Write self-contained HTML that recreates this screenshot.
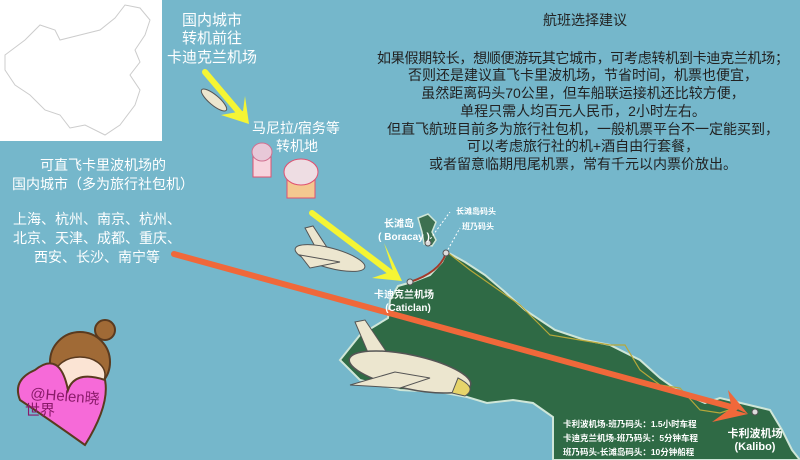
<!DOCTYPE html>
<html><head><meta charset="utf-8"><style>
html,body{margin:0;padding:0;background:#75b7cb;}
svg{display:block;}
text{font-family:"Liberation Sans","Noto Sans CJK SC",sans-serif;}
</style></head><body>
<svg width="800" height="460" viewBox="0 0 800 460" xmlns="http://www.w3.org/2000/svg">
<rect width="800" height="460" fill="#75b7cb"/>
<rect x="0" y="0" width="162" height="141" fill="#fff"/>
<path d="M5,55 L25,40 L40,25 L55,30 L60,40 L80,35 L100,30 L115,18 L125,5 L140,8 L150,20 L145,35 L135,50 L140,62 L130,75 L140,90 L135,105 L120,125 L105,135 L85,125 L70,128 L60,115 L45,110 L30,95 L15,85 L5,70 Z" fill="none" stroke="#ccc" stroke-width="1"/>
<path d="M398,286 L412,282 L430,275 L442,262 L447,252 L465,262 L485,275 L505,292 L525,310 L555,330 L585,340 L610,345 L640,360 L660,378 L680,392 L705,403 L720,398 L745,404 L770,410 L782,430 L792,450 L800,460 L553,460 L553,417 L533,403 L513,400 L487,403 L467,397 L440,392 L400,390 L360,380 L340,360 L360,335 L388,318 L390,300 Z" fill="#2f6a45" stroke="#cfe6d8" stroke-width="2"/>
<path d="M418,218 L428,214 L436,222 L432,232 L436,240 L432,246 L424,244 L422,232 Z" fill="#3d7050" stroke="#cfe6d8" stroke-width="1.5"/>
<path d="M447,252 L470,270 L520,305 L550,335 L580,340 L610,345 L625,345 L640,370 L660,385 L680,388 L700,410 L720,413 L735,408" fill="none" stroke="#b8a83a" stroke-width="1.2"/>
<path d="M410,282 Q440,272 446,253" fill="none" stroke="#a23a2a" stroke-width="2"/>
<line x1="428" y1="242" x2="450" y2="212" stroke="#fff" stroke-width="1" stroke-dasharray="2,2"/>
<line x1="446" y1="253" x2="460" y2="228" stroke="#fff" stroke-width="1" stroke-dasharray="2,2"/>
<circle cx="410" cy="282" r="3" fill="#ddd" stroke="#555"/>
<circle cx="446" cy="253" r="3" fill="#ddd" stroke="#555"/>
<circle cx="428" cy="243" r="3" fill="#ddd" stroke="#555"/>
<circle cx="755" cy="412" r="3" fill="#ddd" stroke="#555"/>
<g>
<path d="M355,322 L365,320 L392,360 L372,362 Z" fill="#ece6cf" stroke="#555"/>
<ellipse cx="410" cy="372" rx="62" ry="17" fill="#ece6cf" stroke="#555" stroke-width="1.5" transform="rotate(12 410 372)"/>
<path d="M395,372 L350,385 L400,388 L430,378 Z" fill="#ece6cf" stroke="#555"/>
<path d="M458,378 Q478,388 465,396 L452,393 Z" fill="#e6d46a" stroke="#555"/>
</g>
<g>
<path d="M305,228 L313,226 L330,252 L318,252 Z" fill="#ece6cf" stroke="#555"/>
<ellipse cx="330" cy="258" rx="36" ry="10" fill="#ece6cf" stroke="#555" transform="rotate(15 330 258)"/>
<path d="M300,255 L340,262 L310,268 Z" fill="#ece6cf" stroke="#555"/>
</g>
<ellipse cx="214" cy="100" rx="16" ry="5" fill="#ece6cf" stroke="#555" transform="rotate(40 214 100)"/>
<rect x="253" y="155" width="18" height="22" fill="#f7d3dd" stroke="#e05070"/>
<ellipse cx="262" cy="152" rx="10" ry="9" fill="#e8c8d8" stroke="#d07090"/>
<rect x="287" y="178" width="28" height="20" fill="#f4c890" stroke="#e05070"/>
<ellipse cx="301" cy="172" rx="17" ry="13" fill="#eedde3" stroke="#e05070"/>
<g fill="#f5f534">
<line x1="205" y1="72" x2="244" y2="118" stroke="#f5f534" stroke-width="6" stroke-linecap="round"/>
<polygon points="249,124 221,115 243,111 245,96"/>
<line x1="312" y1="213" x2="394" y2="275" stroke="#f5f534" stroke-width="6" stroke-linecap="round"/>
<polygon points="402,281 372,278 393,271 384,243"/>
</g>
<line x1="174" y1="254" x2="735" y2="408" stroke="#f0683a" stroke-width="6" stroke-linecap="round"/>
<polygon points="748,414 718,400 731,405 728,390" fill="#f0683a"/>
<polygon points="748,414 712,422 730,409" fill="#f0683a"/>
<circle cx="80" cy="362" r="30" fill="#a06a36" stroke="#5a3a1f" stroke-width="2"/>
<circle cx="105" cy="330" r="10" fill="#a06a36" stroke="#5a3a1f" stroke-width="2"/>
<ellipse cx="80" cy="375" rx="25" ry="18" fill="#fbe4d4" stroke="#5a3a1f" stroke-width="1.5"/>
<path d="M35,370 Q60,350 68,390 Q75,370 105,380 Q110,405 85,445 Q50,420 20,400 Q12,380 35,370 Z" fill="#f66ad8" stroke="#5a3a1f" stroke-width="2"/>
<text x="30" y="398" font-size="15" fill="#8a1a6a" font-family="Liberation Serif,Noto Serif CJK SC,serif" transform="rotate(5 30 398)">@Helen晓</text>
<text x="25" y="415" font-size="15" fill="#8a1a6a" font-family="Liberation Serif,Noto Serif CJK SC,serif">世界</text>
<g fill="#fff" font-size="15" text-anchor="middle">
<text x="212" y="25">国内城市</text>
<text x="212" y="43">转机前往</text>
<text x="212" y="62">卡迪克兰机场</text>
<text x="296" y="133" font-size="14">马尼拉/宿务等</text>
<text x="297" y="151" font-size="14">转机地</text>
<text x="103" y="170" font-size="14">可直飞卡里波机场的</text>
<text x="103" y="189" font-size="14">国内城市（多为旅行社包机）</text>
<text x="97" y="224" font-size="14">上海、杭州、南京、杭州、</text>
<text x="97" y="243" font-size="14">北京、天津、成都、重庆、</text>
<text x="97" y="262" font-size="14">西安、长沙、南宁等</text>
</g>
<g fill="#fff" font-weight="bold" text-anchor="middle" font-size="10">
<text x="399" y="227">长滩岛</text>
<text x="404" y="240">( Boracay )</text>
<text x="404" y="298">卡迪克兰机场</text>
<text x="408" y="311">(Caticlan)</text>
<text x="476" y="214" font-size="8">长滩岛码头</text>
<text x="478" y="229" font-size="8">班乃码头</text>
<text x="755" y="437" font-size="11">卡利波机场</text>
<text x="755" y="450" font-size="11">(Kalibo)</text>
</g>
<g fill="#fff" font-weight="bold" font-size="8.5">
<text x="563" y="427">卡利波机场-班乃码头：1.5小时车程</text>
<text x="563" y="441">卡迪克兰机场-班乃码头：5分钟车程</text>
<text x="563" y="455">班乃码头-长滩岛码头：10分钟船程</text>
</g>
<g fill="#222" font-size="14" text-anchor="middle">
<text x="585" y="25">航班选择建议</text>
<text x="583" y="63" textLength="412" lengthAdjust="spacing">如果假期较长，想顺便游玩其它城市，可考虑转机到卡迪克兰机场；</text>
<text x="583" y="80">否则还是建议直飞卡里波机场，节省时间，机票也便宜，</text>
<text x="583" y="98">虽然距离码头70公里，但车船联运接机还比较方便，</text>
<text x="583" y="116">单程只需人均百元人民币，2小时左右。</text>
<text x="583" y="134">但直飞航班目前多为旅行社包机，一般机票平台不一定能买到，</text>
<text x="583" y="151">可以考虑旅行社的机+酒自由行套餐，</text>
<text x="583" y="169">或者留意临期甩尾机票，常有千元以内票价放出。</text>
</g>
</svg>
</body></html>
